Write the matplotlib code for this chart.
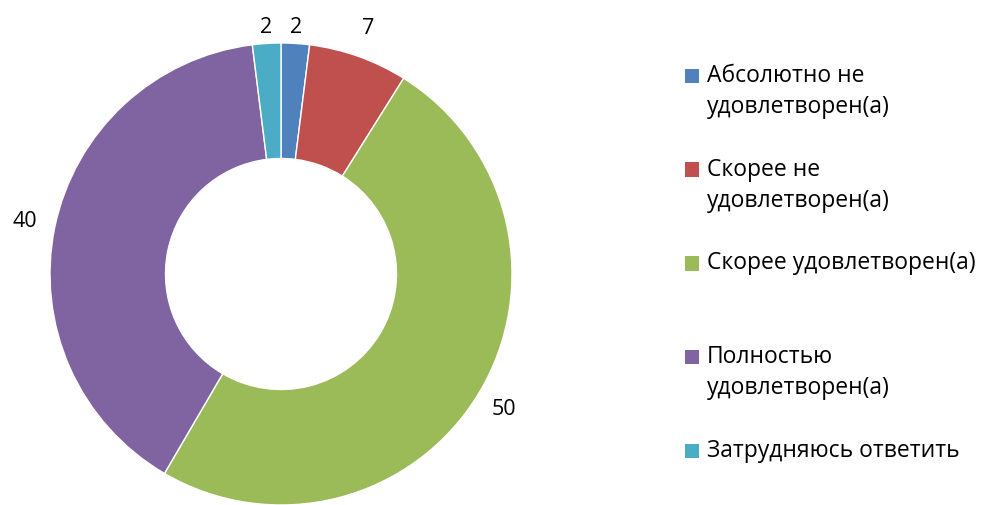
import numpy as np
import matplotlib.pyplot as plt
from matplotlib.patches import Rectangle
from matplotlib.legend_handler import HandlerPatch

plt.rcParams['font.family'] = ['Open Sans', 'DejaVu Sans']

# Donut chart: satisfaction survey
categories = ['Абсолютно не\nудовлетворен(а)', 'Скорее не\nудовлетворен(а)',
              'Скорее удовлетворен(а)\n', 'Полностью\nудовлетворен(а)',
              'Затрудняюсь ответить\n']
values = [2, 7, 50, 40, 2]
colors = ['#4F81BD', '#C0504D', '#9BBB59', '#8064A2', '#4BACC6']
label_dist = [1.07, 1.13, 1.13, 1.13, 1.07]

fig = plt.figure(figsize=(9.84, 5.05), dpi=100)
ax = fig.add_axes([50 / 984, 0 / 505, 462 / 984, 462 / 505])
wedges, texts = ax.pie(values, colors=colors, startangle=90, counterclock=False,
                       labels=[str(v) for v in values], labeldistance=1.1,
                       wedgeprops=dict(width=0.5, edgecolor='white', linewidth=1),
                       textprops=dict(fontsize=15.5))
for w, t, d in zip(wedges, texts, label_dist):
    ang = np.deg2rad((w.theta1 + w.theta2) / 2)
    t.set_position((d * np.cos(ang), d * np.sin(ang)))
    t.set_ha('center')
    t.set_va('center')
ax.set_xlim(-1, 1)
ax.set_ylim(-1, 1)
ax.set_aspect('equal')


def square_top(legend, orig_handle, xdescent, ydescent, width, height, fontsize):
    # put the square next to the first line of the label
    return Rectangle((-xdescent, -ydescent + 0.72 * fontsize), width, height)


handles = [Rectangle((0, 0), 1, 1, facecolor=c, edgecolor='none') for c in colors]
leg = fig.legend(handles, categories, loc='upper left',
                 bbox_to_anchor=(685 / 984, 1 - 64 / 505),
                 frameon=False, fontsize=16.5, handlelength=0.6, handleheight=0.6,
                 handletextpad=0.35, labelspacing=1.68, borderpad=0, borderaxespad=0,
                 handler_map={Rectangle: HandlerPatch(patch_func=square_top)})
for t in leg.get_texts():
    t.set_linespacing(1.4)

fig.savefig('out.png', dpi=100)
